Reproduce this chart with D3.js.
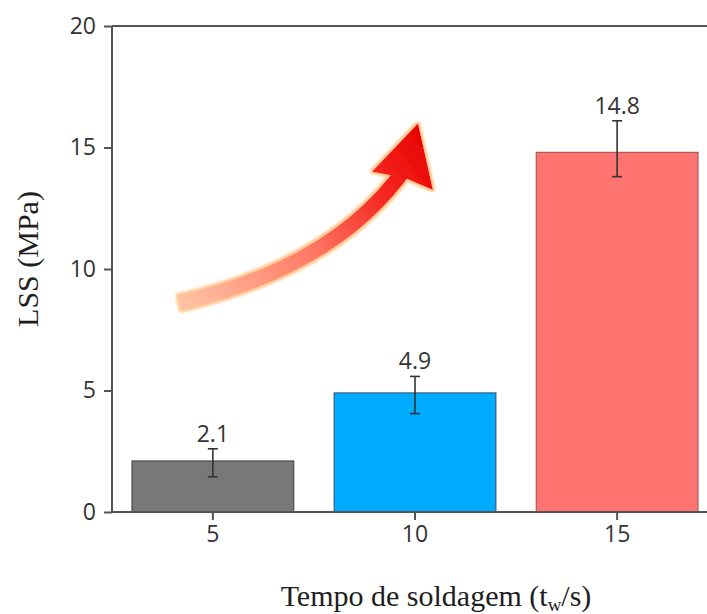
<!DOCTYPE html>
<meta charset="utf-8">
<style>
body { margin: 0; background: #fff; }
.tick text { font-family: "Open Sans", sans-serif; font-size: 23px; fill: #333; }
.value { font-family: "Open Sans", sans-serif; font-size: 23px; fill: #333; text-anchor: middle; }
.label { font-family: "Liberation Serif", "Times New Roman", serif; font-size: 30px; fill: #1e1e1e; }
</style>
<body>
<script src="https://cdn.jsdelivr.net/npm/d3@7"></script>
<script>

// data
var times = [5, 10, 15];
var lss = [2.1, 4.9, 14.8];
var errHigh = [0.5, 0.68, 1.3];
var errLow = [0.65, 0.85, 1.0];
var colors = ["#787878", "#00acff", "#ff7470"];
var strokes = ["#4a4a4a", "#2f5f80", "#a85a58"];
var yTicks = [0, 5, 10, 15, 20];

// arrow annotation, x in bar index units, y in MPa
var arrowShaft = [[-0.165, 8.6], [0.62, 10.1], [0.965, 14.3]];
var arrowHead = [[0.787, 14.0], [1.015, 16.0], [1.089, 13.25], [0.95, 13.75]];

var width = 707, height = 614;
var plotLeft = 112, plotTop = 26, plotRight = 718, plotBottom = 512;

var svg = d3.select("body").append("svg")
    .attr("width", width)
    .attr("height", height);

var x = d3.scaleBand()
    .domain(times)
    .range([plotLeft, plotRight])
    .paddingInner(0.2)
    .paddingOuter(0.099);

var y = d3.scaleLinear()
    .domain([0, 20])
    .range([plotBottom, plotTop]);

var xi = d3.scaleLinear()
    .domain([0, 2])
    .range([x(times[0]) + x.bandwidth() / 2, x(times[2]) + x.bandwidth() / 2]);

// frame
svg.append("line")
    .attr("x1", plotLeft).attr("x2", plotRight)
    .attr("y1", y(20)).attr("y2", y(20))
    .attr("stroke", "#555").attr("stroke-width", 2);
svg.append("line")
    .attr("x1", plotRight).attr("x2", plotRight)
    .attr("y1", y(20)).attr("y2", y(0))
    .attr("stroke", "#555").attr("stroke-width", 2);

// bars
svg.selectAll("rect.bar")
    .data(times)
  .enter().append("rect")
    .attr("class", "bar")
    .attr("x", function(d) { return x(d); })
    .attr("y", function(d, i) { return y(lss[i]); })
    .attr("width", x.bandwidth())
    .attr("height", function(d, i) { return y(0) - y(lss[i]); })
    .attr("fill", function(d, i) { return colors[i]; })
    .attr("stroke", function(d, i) { return strokes[i]; })
    .attr("stroke-width", 1.2);

// error bars
var eb = svg.selectAll("g.err")
    .data(times)
  .enter().append("g")
    .attr("class", "err")
    .attr("stroke", "#333")
    .attr("stroke-width", 1.6);

eb.append("line")
    .attr("x1", function(d) { return x(d) + x.bandwidth() / 2; })
    .attr("x2", function(d) { return x(d) + x.bandwidth() / 2; })
    .attr("y1", function(d, i) { return y(lss[i] + errHigh[i]); })
    .attr("y2", function(d, i) { return y(lss[i] - errLow[i]); });

eb.append("line")
    .attr("x1", function(d) { return x(d) + x.bandwidth() / 2 - 5; })
    .attr("x2", function(d) { return x(d) + x.bandwidth() / 2 + 5; })
    .attr("y1", function(d, i) { return y(lss[i] + errHigh[i]); })
    .attr("y2", function(d, i) { return y(lss[i] + errHigh[i]); });

eb.append("line")
    .attr("x1", function(d) { return x(d) + x.bandwidth() / 2 - 5; })
    .attr("x2", function(d) { return x(d) + x.bandwidth() / 2 + 5; })
    .attr("y1", function(d, i) { return y(lss[i] - errLow[i]); })
    .attr("y2", function(d, i) { return y(lss[i] - errLow[i]); });

// value labels
svg.selectAll("text.value")
    .data(times)
  .enter().append("text")
    .attr("class", "value")
    .attr("x", function(d) { return x(d) + x.bandwidth() / 2; })
    .attr("y", function(d, i) { return y(lss[i] + errHigh[i]) - 7; })
    .text(function(d, i) { return lss[i].toFixed(1); });

// axes
var yAxis = svg.append("g")
    .attr("transform", "translate(" + plotLeft + ",0)")
    .call(d3.axisLeft(y).tickValues(yTicks).tickSize(8).tickPadding(8));

var xAxis = svg.append("g")
    .attr("transform", "translate(0," + plotBottom + ")")
    .call(d3.axisBottom(x).tickSize(8).tickPadding(6));

[yAxis, xAxis].forEach(function(a) {
  a.select(".domain").attr("stroke", "#555").attr("stroke-width", 2);
  a.selectAll(".tick line").attr("stroke", "#555").attr("stroke-width", 2);
});
xAxis.select(".domain").attr("d", "M" + plotLeft + ",0H" + plotRight);
yAxis.select(".domain").attr("d", "M0," + plotBottom + "V" + plotTop);

// axis titles
svg.append("text")
    .attr("class", "label")
    .attr("transform", "translate(38,259) rotate(-90)")
    .attr("text-anchor", "middle")
    .text("LSS (MPa)");

var xl = svg.append("text")
    .attr("class", "label")
    .attr("x", 436)
    .attr("y", 606)
    .attr("text-anchor", "middle");
xl.append("tspan").text("Tempo de soldagem (t");
xl.append("tspan").attr("font-size", "19px").attr("dy", 5).text("w");
xl.append("tspan").attr("dy", -5).text("/s)");

// arrow
var defs = svg.append("defs");
var p0 = [xi(arrowShaft[0][0]), y(arrowShaft[0][1])];
var tip = [xi(arrowHead[1][0]), y(arrowHead[1][1])];

var grad = defs.append("linearGradient")
    .attr("id", "arrowGrad")
    .attr("gradientUnits", "userSpaceOnUse")
    .attr("x1", p0[0]).attr("y1", p0[1])
    .attr("x2", tip[0]).attr("y2", tip[1]);
grad.append("stop").attr("offset", "0%").attr("stop-color", "#ffc4a4");
grad.append("stop").attr("offset", "45%").attr("stop-color", "#ff7a66");
grad.append("stop").attr("offset", "75%").attr("stop-color", "#f52a24");
grad.append("stop").attr("offset", "100%").attr("stop-color", "#e80000");

var glow = defs.append("filter")
    .attr("id", "glow")
    .attr("x", "-20%").attr("y", "-20%")
    .attr("width", "140%").attr("height", "140%");
glow.append("feMorphology").attr("in", "SourceAlpha").attr("operator", "dilate").attr("radius", 1.5).attr("result", "d");
glow.append("feFlood").attr("flood-color", "#ffc890").attr("result", "c");
glow.append("feComposite").attr("in", "c").attr("in2", "d").attr("operator", "in").attr("result", "o");
glow.append("feGaussianBlur").attr("in", "o").attr("stdDeviation", 1.2).attr("result", "ob");
glow.append("feGaussianBlur").attr("in", "SourceGraphic").attr("stdDeviation", 0.5).attr("result", "sb");
var m = glow.append("feMerge");
m.append("feMergeNode").attr("in", "ob");
m.append("feMergeNode").attr("in", "sb");

var arrowG = svg.append("g").attr("filter", "url(#glow)");

arrowG.append("path")
    .attr("d", "M" + p0 + "Q" + [xi(arrowShaft[1][0]), y(arrowShaft[1][1])] +
               " " + [xi(arrowShaft[2][0]), y(arrowShaft[2][1])])
    .attr("fill", "none")
    .attr("stroke", "url(#arrowGrad)")
    .attr("stroke-width", 15);

arrowG.append("path")
    .attr("d", d3.line().x(function(d) { return xi(d[0]); }).y(function(d) { return y(d[1]); })(arrowHead) + "Z")
    .attr("fill", "url(#arrowGrad)");

</script>
</body>
